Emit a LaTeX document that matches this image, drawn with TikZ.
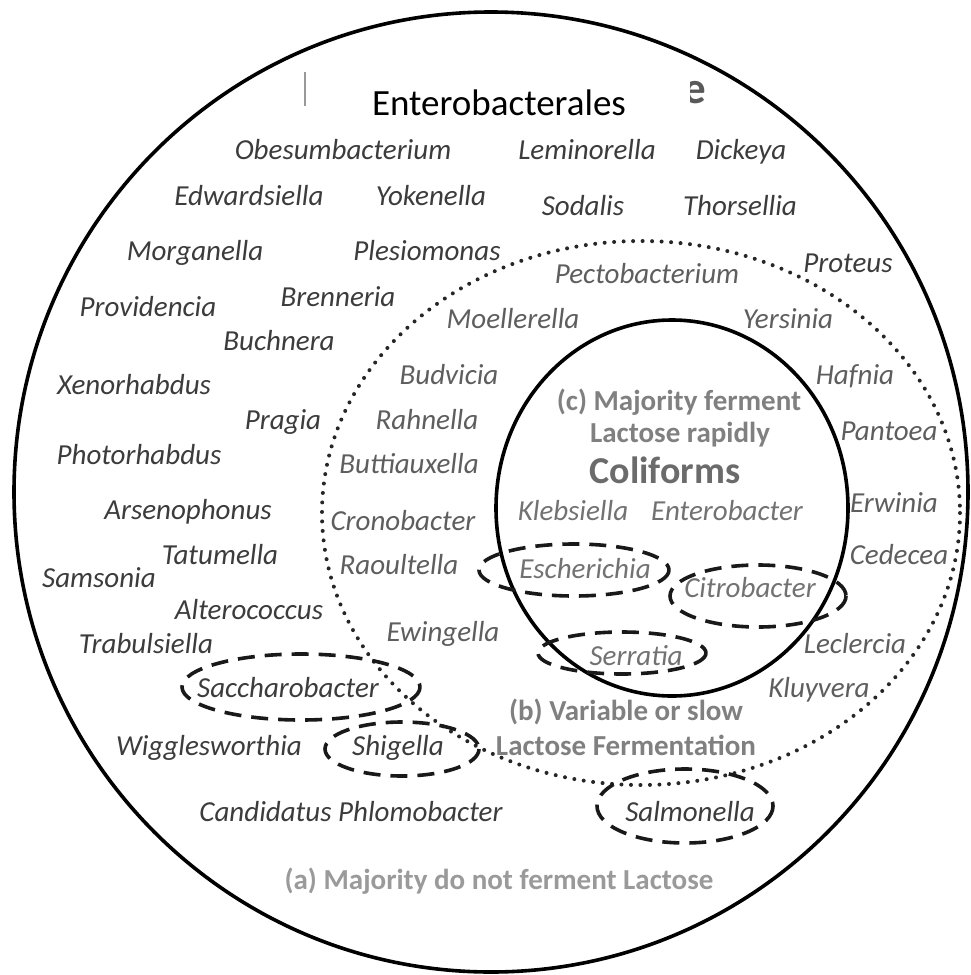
\documentclass[tikz,border=0pt]{standalone}
\usepackage{fontspec}
\setmainfont{Carlito}
\definecolor{namea}{HTML}{3C3C3C}
\definecolor{nameb}{HTML}{5E5E5E}
\definecolor{namec}{HTML}{727272}
\definecolor{labc}{HTML}{808080}
\definecolor{laba}{HTML}{9A9A9A}
\newcommand\gfont{\fontsize{29}{34}\selectfont\itshape}
\newcommand\lfont{\fontsize{29}{34}\selectfont\bfseries}
\tikzset{
  gen/.style={font=\gfont, text=namea, inner sep=0pt, anchor=base},
  genb/.style={gen, text=nameb},
  genc/.style={gen, text=namec},
  lab/.style={font=\lfont, text=labc, inner sep=0pt, anchor=base},
  ring/.style={line width=3.6pt, draw=black},
  dotring/.style={line width=4pt, line cap=round, dash pattern=on 0pt off 9.5pt, draw=black!85},
  dashring/.style={line width=3.6pt, dash pattern=on 17pt off 10pt, draw=black!90},
}
\begin{document}
\begin{tikzpicture}[x=1pt,y=-1pt]
\useasboundingbox (0,0) rectangle (970,975);
\fill[white] (0,0) rectangle (970,975);

% circles
\draw[ring] (491,492) ellipse [x radius=477, y radius=480];
\draw[dotring] (641,513) ellipse [x radius=319, y radius=272];
\draw[ring] (672,508) ellipse [x radius=176, y radius=188];

% dashed ellipses
\draw[dashring] (574,570) ellipse [x radius=95, y radius=26];
\draw[dashring] (758,596) ellipse [x radius=88, y radius=31];
\draw[dashring] (622,653) ellipse [x radius=84, y radius=21];
\draw[dashring] (301,687) ellipse [x radius=119, y radius=33];
\draw[dashring] (402,749) ellipse [x radius=77, y radius=27];
\draw[dashring] (685,806) ellipse [x radius=88, y radius=37];

% title remnant and title
\node[font=\fontsize{45}{50}\selectfont\bfseries, text=black!65, inner sep=0pt, anchor=base west] (eleft) at (683,103) {e};
\fill[white] (306,70) rectangle (690,130);
\draw[black!40, line width=1.5pt] (305,72) -- (305,106);
\node[font=\fontsize{37}{42}\selectfont, text=black, inner sep=0pt, anchor=base] (title) at (499,115) {Enterobacterales};

% (a) genera
\node[gen] (n1) at (343,159) {Obesumbacterium};
\node[gen] (n2) at (587,159) {Leminorella};
\node[gen] (n3) at (741,159) {Dickeya};
\node[gen] (n4) at (249,205) {Edwardsiella};
\node[gen] (n5) at (431,205) {Yokenella};
\node[gen] (n6) at (583,215) {Sodalis};
\node[gen] (n7) at (740,215) {Thorsellia};
\node[gen] (n8) at (195,260) {Morganella};
\node[gen] (n9) at (427,260) {Plesiomonas};
\node[gen] (n10) at (848,272) {Proteus};
\node[gen] (n11) at (148,316) {Providencia};
\node[gen] (n12) at (338,306) {Brenneria};
\node[gen] (n13) at (279,350) {Buchnera};
\node[gen] (n14) at (134,394) {Xenorhabdus};
\node[gen] (n15) at (283,429) {Pragia};
\node[gen] (n16) at (139,464) {Photorhabdus};
\node[gen] (n17) at (188,519) {Arsenophonus};
\node[gen] (n18) at (220,564) {Tatumella};
\node[gen] (n19) at (99,587) {Samsonia};
\node[gen] (n20) at (249,619) {Alterococcus};
\node[gen] (n21) at (146,653) {Trabulsiella};
\node[gen] (n22) at (288,697) {Saccharobacter};
\node[gen] (n23) at (209,755) {Wigglesworthia};
\node[gen] (n24) at (398,755) {Shigella};
\node[gen] (n25) at (351,821) {Candidatus Phlomobacter};
\node[gen] (n26) at (690,821) {Salmonella};

% (b) genera
\node[genb] (b1) at (647,283) {Pectobacterium};
\node[genb] (b2) at (513,328) {Moellerella};
\node[genb] (b3) at (788,328) {Yersinia};
\node[genb] (b4) at (449,384) {Budvicia};
\node[genb] (b5) at (855,384) {Hafnia};
\node[genb] (b6) at (427,429) {Rahnella};
\node[genb] (b7) at (889,440) {Pantoea};
\node[genb] (b8) at (409,473) {Buttiauxella};
\node[genb] (b9) at (403,530) {Cronobacter};
\node[genb] (b10) at (894,512) {Erwinia};
\node[genb] (b11) at (399,574) {Raoultella};
\node[genb] (b12) at (899,564) {Cedecea};
\node[genb] (b13) at (443,641) {Ewingella};
\node[genb] (b14) at (855,653) {Leclercia};
\node[genb] (b15) at (819,697) {Kluyvera};

% (c) genera
\node[genc] (c1) at (573,520) {Klebsiella};
\node[genc] (c2) at (727,520) {Enterobacter};
\node[genc] (c3) at (585,578) {Escherichia};
\node[genc] (c4) at (750,597) {Citrobacter};
\node[genc] (c5) at (636,665) {Serratia};

% labels
\node[lab] (lc1) at (679,410) {(c) Majority ferment};
\node[lab] (lc2) at (680,442) {Lactose rapidly};
\node[lab, font=\fontsize{38}{42}\selectfont\bfseries, text=black!58] (colif) at (665,483) {Coliforms};
\node[lab] (lb1) at (626,720) {(b) Variable or slow};
\node[lab] (lb2) at (626,755) {Lactose Fermentation};
\node[lab, text=laba] (la) at (499,889) {(a) Majority do not ferment Lactose};
\end{tikzpicture}
\end{document}
